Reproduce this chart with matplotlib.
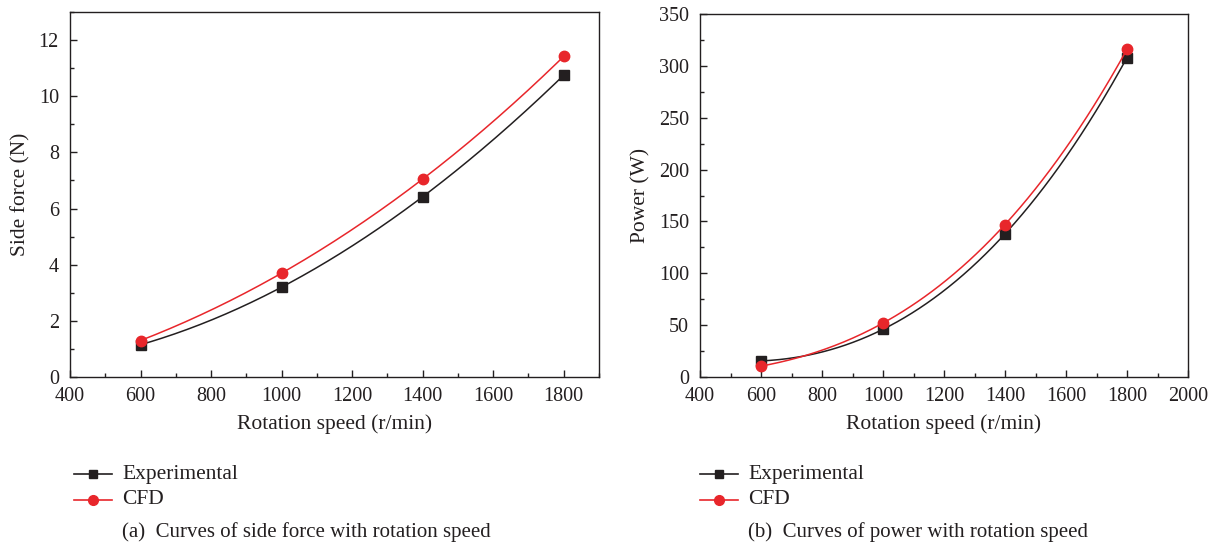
import numpy as np
import matplotlib
matplotlib.use('Agg')
import matplotlib.pyplot as plt
from matplotlib.ticker import MultipleLocator

plt.rcParams['font.family'] = ['Liberation Serif', 'DejaVu Serif']

speed = [600, 1000, 1400, 1800]

force_exp = [1.15, 3.2, 6.42, 10.75]
force_cfd = [1.3, 3.7, 7.05, 11.42]

power_exp = [15.5, 46, 138, 308]
power_cfd = [10.5, 52, 147, 316]

black = '#231f20'
red = '#e8262b'

W, H = 1218, 548
fig = plt.figure(figsize=(W / 100, H / 100), dpi=100)


def smooth(x, y):
    # cubic through the 4 points, only for drawing the curve
    c = np.polyfit(x, y, 3)
    xs = np.linspace(x[0], x[-1], 200)
    return xs, np.polyval(c, xs)


def panel(rect, y_exp, y_cfd, xlim, ylim, ymaj, ylabel, caption, leg_x):
    ax = fig.add_axes([rect[0] / W, 1 - rect[3] / H, (rect[2] - rect[0]) / W, (rect[3] - rect[1]) / H])
    xs, ys = smooth(speed, y_exp)
    ax.plot(xs, ys, color=black, lw=1.1)
    ax.plot(speed, y_exp, 's', color=black, ms=7)
    xs, ys = smooth(speed, y_cfd)
    ax.plot(xs, ys, color=red, lw=1.1)
    ax.plot(speed, y_cfd, 'o', color=red, ms=7.5)
    ax.set_xlim(*xlim)
    ax.set_ylim(*ylim)
    ax.xaxis.set_major_locator(MultipleLocator(200))
    ax.xaxis.set_minor_locator(MultipleLocator(100))
    ax.yaxis.set_major_locator(MultipleLocator(ymaj))
    ax.yaxis.set_minor_locator(MultipleLocator(ymaj / 2))
    ax.tick_params(which='both', direction='in', top=False, right=False,
                   labelsize=14.5, colors=black, width=1)
    ax.tick_params(which='major', length=5)
    ax.tick_params(which='minor', length=3)
    ax.tick_params(axis='x', pad=7)
    ax.tick_params(axis='y', pad=8)
    for s in ax.spines.values():
        s.set_color(black)
        s.set_linewidth(1)
    ax.set_xlabel('Rotation speed (r/min)', fontsize=15.5, color=black, labelpad=6)
    ax.set_ylabel(ylabel, fontsize=15.5, color=black, labelpad=6)

    # legend below the plot, drawn in figure coords
    for i, (lab, col, mk, ms) in enumerate([('Experimental', black, 's', 6), ('CFD', red, 'o', 7)]):
        yy = 1 - (474 + 26 * i) / H
        fig.add_artist(plt.Line2D([(leg_x - 48) / W, (leg_x - 10) / W], [yy, yy],
                                  color=col, lw=1.2, marker=None))
        fig.add_artist(plt.Line2D([(leg_x - 29) / W], [yy], color=col, marker=mk, ms=ms, lw=0))
        fig.text(leg_x / W, yy, lab, fontsize=15.5, color=black, va='center', ha='left')
    fig.text(leg_x / W, 1 - 532 / H, caption, fontsize=15, color=black, va='center', ha='left')
    return ax


panel([70, 12, 599, 377], force_exp, force_cfd, (400, 1900), (0, 13), 2,
      'Side force (N)', '(a)  Curves of side force with rotation speed', 122)
panel([700, 14, 1188, 377], power_exp, power_cfd, (400, 2000), (0, 350), 50,
      'Power (W)', '(b)  Curves of power with rotation speed', 748)

fig.savefig('out.png', dpi=100)
